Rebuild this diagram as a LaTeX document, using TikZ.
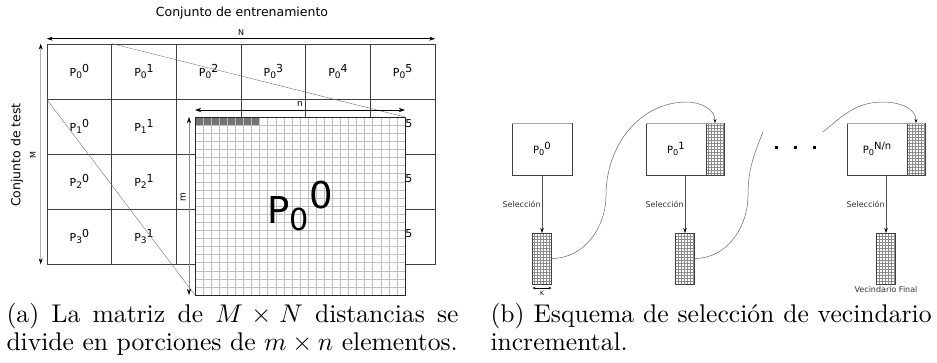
\documentclass[tikz,border=0pt]{standalone}
\usepackage{fontspec}
\usepackage{graphicx}
\usetikzlibrary{arrows.meta, positioning, patterns}
\newfontfamily\diafont{DejaVu Sans}
% P with index below and part number above, as in the figure
\newcommand{\pidx}[2]{P\raisebox{-0.18em}{\scalebox{0.82}{#1}}\raisebox{0.42em}{#2}}

\begin{document}
\begin{tikzpicture}[x=1pt, y=-1pt,
  cell/.style={draw=black!75, line width=0.6pt, minimum width=64.67pt, minimum height=55pt,
    inner sep=0pt, font=\diafont\fontsize{11}{12}\selectfont},
  dimarrow/.style={line width=0.6pt,
    {Stealth[length=6pt,width=4pt,color=black]}-{Stealth[length=6pt,width=4pt,color=black]}},
  projline/.style={black!55, line width=0.4pt},
  zoomgrid/.style={black!25, line width=0.4pt},
  pbox/.style={draw=black!75, line width=0.6pt, outer sep=0pt, minimum width=60pt,
    minimum height=52pt, inner sep=0pt, font=\diafont\fontsize{10}{12}\selectfont},
  hatchbox/.style={draw=black!75, line width=0.6pt, outer sep=0pt, pattern=grid,
    pattern color=black!45, inner sep=0pt},
  selgrid/.style={hatchbox, minimum width=19pt, minimum height=51pt},
  selarrow/.style={black!70, line width=0.6pt, -{Stealth[length=5pt,width=3.5pt,color=black]}},
  bendarrow/.style={black!60, line width=0.5pt, -{Stealth[length=4pt,width=3pt,color=black]}},
  tinylabel/.style={font=\diafont\fontsize{8}{9}\selectfont, text=black!80, inner sep=1pt},
  dotsq/.style={fill=black, minimum size=3pt, inner sep=0pt},
  caption/.style={scale=2.56, anchor=north west, align=left, inner sep=0pt,
    font=\fontsize{10}{10.8}\selectfont}
]
\useasboundingbox (0,0) rectangle (937,362);

% ---- (a) distance matrix
\node[font=\diafont\fontsize{12.5}{14}\selectfont] (trainlbl) at (242,13) {Conjunto de entrenamiento};
\node[font=\diafont\fontsize{12.5}{14}\selectfont, rotate=90] (testlbl) at (17,155) {Conjunto de test};
\foreach \r in {0,...,3}
  \foreach \c in {0,...,5}{
    \ifnum\r=0 \def\shown{1}\else
      \ifnum\c<2 \def\shown{1}\else
        \ifnum\c=5 \def\shown{1}\else \def\shown{0}\fi\fi\fi
    \ifnum\shown=1
      \node[cell] (c\r\c) at ({79.33+64.67*\c},{71.5+55*\r}) {\pidx{\r}{\c}};
    \else
      \node[cell] (c\r\c) at ({79.33+64.67*\c},{71.5+55*\r}) {};
    \fi
  }

\draw[dimarrow] ([yshift=5]c00.north west) -- ([yshift=5]c05.north east)
  node[midway, above=0pt, font=\diafont\fontsize{8}{9}\selectfont] (nbig) {N};
\draw[dimarrow, draw=black!30] ([xshift=-6]c00.north west) -- ([xshift=-6]c30.south west);
\node[font=\diafont\fontsize{8}{9}\selectfont, rotate=90] (mbig) at (33,155) {M};

% zoomed portion
\node[draw=black!85, line width=0.8pt, fill=white, minimum width=210pt, minimum height=178pt,
  inner sep=0pt, outer sep=0pt] (zoom) at (300,206) {};
\fill[black!55] (195,117) rectangle ({195+8*210/26},{117+178/22});
\foreach \i in {1,...,25}
  \draw[zoomgrid] ({195+\i*210/26},117) -- ({195+\i*210/26},295);
\foreach \j in {1,...,21}
  \draw[zoomgrid] (195,{117+\j*178/22}) -- (405,{117+\j*178/22});
\draw[black!85, line width=0.8pt] (zoom.north west) rectangle (zoom.south east);
\node[font=\diafont\fontsize{37}{40}\selectfont] (bigp) at (zoom.center) {\pidx{0}{0}};

\draw[projline] (c00.north east) -- (zoom.north east);
\draw[projline] (c00.south west) -- (zoom.south west);

\draw[dimarrow] ([yshift=7]zoom.north west) -- ([yshift=7]zoom.north east)
  node[midway, above=0pt, font=\diafont\fontsize{9}{10}\selectfont] (nsmall) {n};
\draw[dimarrow, draw=black!45] ([xshift=-6]zoom.north west) -- ([xshift=-6]zoom.south west);
\node[font=\diafont\fontsize{9}{10}\selectfont, rotate=90] (msmall) at (183,197) {m};

% ---- (b) incremental neighbourhood selection
\node[pbox] (b0) at (542,149) {\pidx{0}{0}};
\node[pbox] (b1) at (676,149) {\pidx{0}{1}};
\node[hatchbox, minimum width=18pt, minimum height=52pt, right=0pt of b1] (h1) {};
\node[pbox] (b2) at (877,149) {\pidx{0}{N/n}};
\node[hatchbox, minimum width=18pt, minimum height=52pt, right=0pt of b2] (h2) {};
\draw[black!35, line width=0.8pt] (b0.north west) -- (b0.north east);
\draw[black!35, line width=0.8pt] (b1.north west) -- (h1.north east);
\draw[black!35, line width=0.8pt] (b2.north west) -- (h2.north east);

\node[selgrid, below=58pt of b0] (s0) {};
\node[selgrid, below=58pt of b1, xshift=9pt] (s1) {};
\node[selgrid, below=58pt of b2, xshift=9pt] (s2) {};

\draw[selarrow] (b0) -- (s0) node[midway, left, tinylabel] {Selección};
\draw[selarrow] (s1.north |- b1.south) -- (s1.north) node[midway, left, tinylabel] {Selección};
\draw[selarrow] (s2.north |- b2.south) -- (s2.north) node[midway, left, tinylabel] {Selección};

\draw[line width=0.5pt, {Stealth[length=3pt,width=2.5pt]}-{Stealth[length=3pt,width=2.5pt]}]
  ([yshift=-4]s0.south west) -- ([yshift=-4]s0.south east)
  node[midway, below=0pt, font=\diafont\fontsize{6}{7}\selectfont] (klbl) {K};
\node[tinylabel, below=1pt of s2] (finallbl) {Vecindario Final};

\coordinate (rise1) at (606,195);
\coordinate (peak1) at (687,102);
\coordinate (rise2) at (748,195);
\coordinate (gapl) at (763,132);
\coordinate (gapr) at (823,132);
\coordinate (peak2) at (883,102);
\draw[bendarrow] (s0.east) to[out=0,in=-90] (rise1) to[out=90,in=180] (peak1) to[out=0,in=90] (h1.north);
\draw[black!60, line width=0.5pt] (s1.east) to[out=0,in=-90] (rise2) to[out=90,in=-112] (gapl);
\draw[bendarrow] (gapr) to[out=40,in=180] (peak2) to[out=0,in=90] (h2.north);
\foreach \k/\xx in {1/776, 2/795, 3/814}
  \node[dotsq] (dot\k) at (\xx,147) {};

% ---- captions
\node[caption] (capa) at (6,303)
  {\makebox[176.6pt][s]{(a) La matriz de $M \times N$ distancias se}\\divide en porciones de $m\times n$ elementos.};
\node[caption] (capb) at (490,303)
  {\makebox[172.3pt][s]{(b) Esquema de selección de vecindario}\\incremental.};
\end{tikzpicture}
\end{document}
